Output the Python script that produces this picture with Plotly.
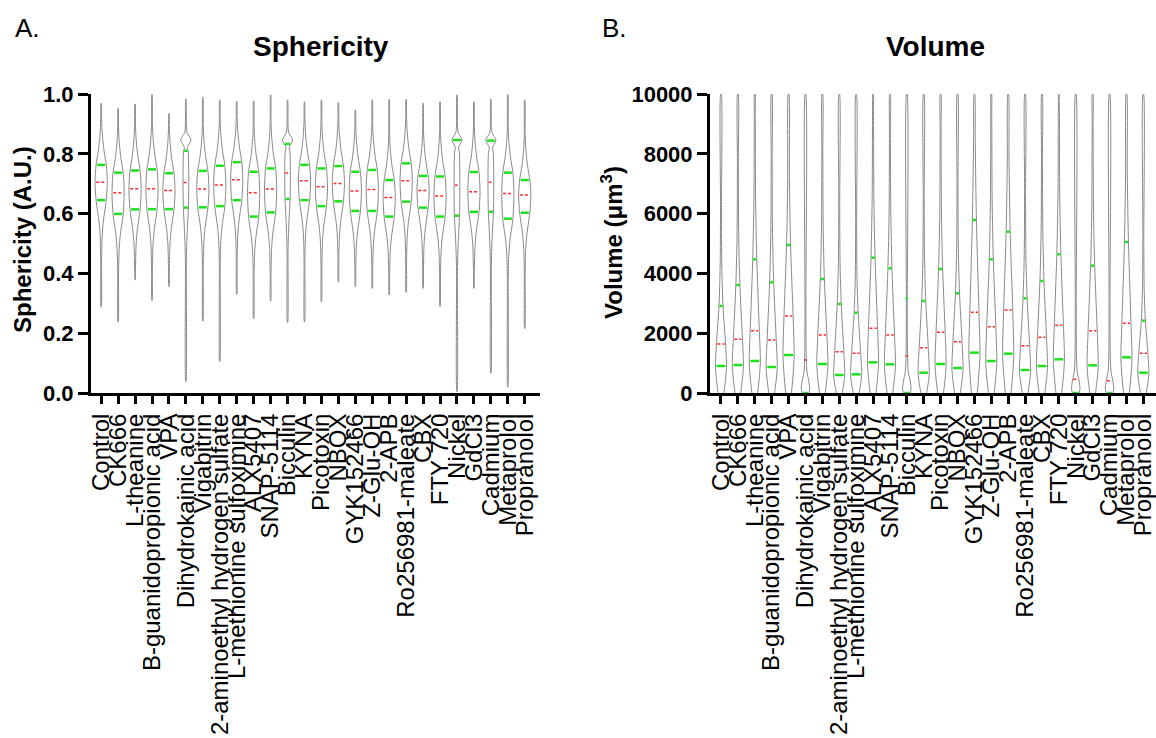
import numpy as np
import plotly.graph_objects as go

categories = ["Control", "CK666", "L-theanine", "B-guanidopropionic acid", "VPA",
              "Dihydrokainic acid", "Vigabitrin", "2-aminoethyl hydrogen sulfate",
              "L-methionine sulfoximine", "ALX5407", "SNAP-5114", "Bicculin", "KYNA",
              "Picotoxin", "NBQX", "GYK152466", "Z-Glu-OH", "2-APB", "Ro256981-maleate",
              "CBX", "FTY 720", "Nickel", "GdCl3", "Cadmium", "Metaprolol", "Propranolol"]

# Sphericity (A.U.) summary
sph_min = [0.287, 0.238, 0.378, 0.309, 0.356, 0.038, 0.241, 0.105, 0.330, 0.249, 0.308, 0.236, 0.238,
           0.305, 0.372, 0.356, 0.350, 0.328, 0.337, 0.350, 0.289, 0.005, 0.350, 0.066, 0.020, 0.216]
sph_q1 = [0.645, 0.599, 0.614, 0.615, 0.615, 0.620, 0.621, 0.625, 0.645, 0.590, 0.604, 0.649, 0.645,
          0.625, 0.641, 0.609, 0.609, 0.590, 0.640, 0.620, 0.590, 0.593, 0.606, 0.606, 0.583, 0.603]
sph_med = [0.705, 0.670, 0.683, 0.683, 0.677, 0.704, 0.682, 0.696, 0.713, 0.670, 0.682, 0.736, 0.710,
           0.690, 0.701, 0.676, 0.681, 0.654, 0.710, 0.677, 0.659, 0.695, 0.673, 0.705, 0.667, 0.662]
sph_q3 = [0.763, 0.737, 0.744, 0.748, 0.735, 0.810, 0.743, 0.760, 0.772, 0.740, 0.751, 0.833, 0.763,
          0.751, 0.759, 0.740, 0.746, 0.712, 0.768, 0.726, 0.724, 0.846, 0.739, 0.844, 0.737, 0.712]
sph_max = [0.969, 0.952, 0.966, 0.998, 0.935, 0.983, 0.989, 0.980, 0.976, 0.977, 0.997, 0.980, 0.974,
           0.980, 0.971, 0.946, 0.980, 0.982, 0.982, 0.969, 0.974, 0.997, 0.974, 0.983, 0.999, 0.980]
# location of a sharp secondary mode (None = no such mode)
sph_peak = [None, None, None, None, None, 0.846, None, None, None, None, None, 0.846, None,
            None, None, None, None, None, None, None, None, 0.846, None, 0.845, None, None]

# Volume (um^3) summary
vol_q1 = [903, 936, 1070, 870, 1271, 0, 970, 602, 624, 1026, 959, 0, 680,
          970, 836, 1349, 1070, 1315, 769, 903, 1126, 0, 925, 0, 1193, 680]
vol_med = [1639, 1795, 2084, 1772, 2575, 1104, 1940, 1382, 1327, 2163, 1940, 1237, 1516,
           2029, 1717, 2698, 2219, 2776, 1583, 1862, 2263, 457, 2084, 412, 2330, 1327]
vol_q3 = [2910, 3612, 4471, 3701, 4950, None, 3813, 2977, 2686, 4526, 4170, 3166, 3077,
          4147, 3334, 5786, 4471, 5396, 3166, 3746, 4638, None, 4259, None, 5050, 2419]
vol_max = [10000] * 26
# groups whose mass sits right at zero
vol_lowmode = [False, False, False, False, False, True, False, False, False, False, False, True, False,
               False, False, False, False, False, False, False, False, True, False, True, False, False]

FONT = "Liberation Sans, Arial, sans-serif"
OUT = "#8a8a8a"
GREEN = "#1ee01e"
RED = "#ff2a2a"


def clean(pts, lo, hi):
    out = [pts[0]]
    for v, w in pts[1:-1]:
        if lo < v < hi and v > out[-1][0]:
            out.append((v, w))
    out.append(pts[-1])
    v = np.array([p[0] for p in out], float)
    w = np.array([p[1] for p in out], float)
    return v, w


def sph_profile(i):
    mn, q1, md, q3, mx, pk = sph_min[i], sph_q1[i], sph_med[i], sph_q3[i], sph_max[i], sph_peak[i]
    if pk is None:
        pts = [(mn, 0.01), (q1 - 0.2, 0.025), (q1 - 0.12, 0.06), (q1 - 0.07, 0.13), (q1, 0.3),
               (md, 0.36), (q3, 0.3), (q3 + 0.05, 0.16), (q3 + 0.1, 0.07), (q3 + 0.15, 0.025), (mx, 0.01)]
    else:
        pts = [(mn, 0.01), (q1 - 0.17, 0.03), (q1 - 0.08, 0.08), (q1, 0.15), (md, 0.17),
               (pk - 0.04, 0.14), (pk - 0.025, 0.09), (pk, 0.3), (pk + 0.025, 0.07), (pk + 0.05, 0.03), (mx, 0.01)]
    return clean(pts, mn, mx)


def vol_profile(i):
    q1, md, q3, mx = vol_q1[i], vol_med[i], vol_q3[i], vol_max[i]
    if vol_lowmode[i]:
        pts = [(0, 0.2), (150, 0.25), (400, 0.2), (700, 0.09), (1200, 0.045), (3000, 0.028), (mx, 0.018)]
    else:
        pts = [(0, 0.17), (q1 * 0.5, 0.27), (q1, 0.33), (md, 0.27), (q3, 0.12),
               (q3 * 1.45, 0.05), (q3 * 2.1, 0.028), (mx, 0.018)]
    return clean(pts, 0, mx)


fig = go.Figure()


def add_panel(xa, ya, profile, stats_q, stats_m, closed_bottom):
    seg_gx, seg_gy, seg_rx, seg_ry = [], [], [], []
    for i in range(len(categories)):
        v, w = profile(i)
        if closed_bottom:
            xs = np.concatenate([[i], i + w, [i], (i - w)[::-1], [i]])
            ys = np.concatenate([[v[0]], v, [v[-1]], v[::-1], [v[0]]])
        else:
            xs = np.concatenate([i + w, [i], (i - w)[::-1]])
            ys = np.concatenate([v, [v[-1]], v[::-1]])
        fig.add_trace(go.Scatter(x=xs, y=ys, mode="lines", xaxis=xa, yaxis=ya,
                                 line=dict(color=OUT, width=1, shape="spline", smoothing=0.8),
                                 hoverinfo="skip", showlegend=False))
        for q in stats_q:
            val = q[i]
            if val is None:
                continue
            hw = max(0.8 * np.interp(val, v, w), 0.07)
            seg_gx += [i - hw, i + hw, None]
            seg_gy += [val, val, None]
        val = stats_m[i]
        hw = max(0.8 * np.interp(val, v, w), 0.08)
        seg_rx += [i - hw, i + hw, None]
        seg_ry += [val, val, None]
    fig.add_trace(go.Scatter(x=seg_gx, y=seg_gy, mode="lines", xaxis=xa, yaxis=ya,
                             line=dict(color=GREEN, width=2.5), hoverinfo="skip", showlegend=False,
                             cliponaxis=False))
    fig.add_trace(go.Scatter(x=seg_rx, y=seg_ry, mode="lines", xaxis=xa, yaxis=ya,
                             line=dict(color=RED, width=1.5, dash="3px,2px"), hoverinfo="skip",
                             showlegend=False, cliponaxis=False))


add_panel("x", "y", sph_profile, [sph_q1, sph_q3], sph_med, True)
add_panel("x2", "y2", vol_profile, [vol_q1, vol_q3], vol_med, False)

W, H = 1156, 738
ybot = (H - 393) / H
ytop = (H - 94) / H

xcommon = dict(tickmode="array", tickvals=list(range(len(categories))), ticktext=categories,
               tickangle=-90, ticks="outside", ticklen=8, tickwidth=3, tickcolor="black",
               showline=True, linewidth=3, linecolor="black", showgrid=False, zeroline=False,
               tickfont=dict(family=FONT, size=24, color="black"), layer="below traces",
               automargin=False, ticklabeloverflow="allow")
ycommon = dict(ticks="outside", ticklen=10, tickwidth=3, tickcolor="black",
               showline=True, linewidth=3, linecolor="black", showgrid=False, zeroline=False,
               tickfont=dict(family=FONT, size=22, color="black", weight="bold"), layer="below traces",
               automargin=False)

fig.update_layout(
    width=W, height=H, margin=dict(l=0, r=0, t=0, b=0, autoexpand=False),
    paper_bgcolor="white", plot_bgcolor="white",
    xaxis=dict(domain=[91 / W, 540 / W], range=[-0.6, 25.9], anchor="y", **xcommon),
    yaxis=dict(domain=[ybot, ytop], range=[0, 1.0], anchor="x", tickvals=[0, 0.2, 0.4, 0.6, 0.8, 1.0],
               tickformat=".1f", **ycommon),
    xaxis2=dict(domain=[710 / W, 1.0], range=[-0.65, 25.75], anchor="y2", **xcommon),
    yaxis2=dict(domain=[ybot, ytop], range=[0, 10000], anchor="x2",
                tickvals=[0, 2000, 4000, 6000, 8000, 10000], tickformat="d", **ycommon),
)

ann = [
    dict(text="A.", x=13 / W, y=1 - 28 / H, xanchor="left", font=dict(size=26)),
    dict(text="B.", x=600 / W, y=1 - 28 / H, xanchor="left", font=dict(size=26)),
    dict(text="<b>Sphericity</b>", x=321 / W, y=1 - 46 / H, xanchor="center", font=dict(size=28)),
    dict(text="<b>Volume</b>", x=935 / W, y=1 - 46 / H, xanchor="center", font=dict(size=28)),
    dict(text="<b>Sphericity (A.U.)</b>", x=22 / W, y=1 - 240 / H, xanchor="center", textangle=-90,
         font=dict(size=24)),
    dict(text="<b>Volume (μm<sup>3</sup>)</b>", x=612 / W, y=1 - 243 / H, xanchor="center", textangle=-90,
         font=dict(size=24)),
]
for a in ann:
    a.update(xref="paper", yref="paper", showarrow=False, yanchor="middle")
    a["font"].update(family=FONT, color="black")
    fig.add_annotation(**a)

fig.write_html("out.html")
